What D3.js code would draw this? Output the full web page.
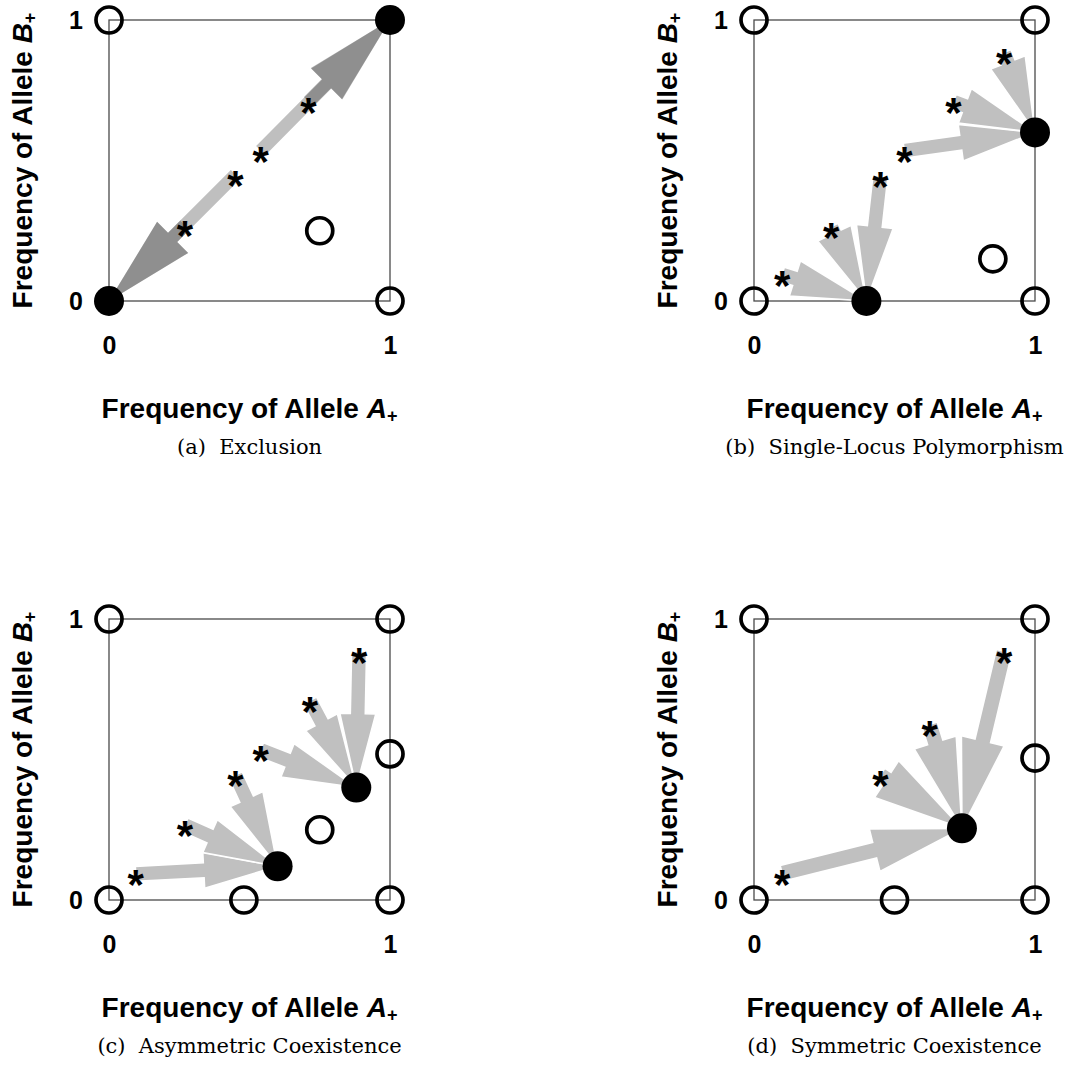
<!DOCTYPE html>
<html>
<head>
<meta charset="utf-8">
<script src="https://cdn.jsdelivr.net/npm/d3@7"></script>
<style>
  body { margin: 0; background: #fff; }
  svg { display: block; }
</style>
</head>
<body>
<svg></svg>
<script>
const width = 1067;
const height = 1070;

// panel captions
const captions = ["(a)  Exclusion", "(b)  Single-Locus Polymorphism",
                  "(c)  Asymmetric Coexistence", "(d)  Symmetric Coexistence"];
const tickValues = [0, 1];
const xLabel = "Frequency of Allele ";
const yLabel = "Frequency of Allele ";

// stable (filled) and unstable (open) equilibria, [A+, B+]
const stableA = [[0, 0], [1, 1]];
const unstableA = [[0, 1], [1, 0], [0.75, 0.25]];
const stableB = [[0.4, 0], [1, 0.6]];
const unstableB = [[0, 0], [0, 1], [1, 0], [1, 1], [0.85, 0.15]];
const stableC = [[0.6, 0.12], [0.88, 0.4]];
const unstableC = [[0, 0], [0, 1], [1, 0], [1, 1], [0.48, 0], [1, 0.52], [0.75, 0.25]];
const stableD = [[0.74, 0.255]];
const unstableD = [[0, 0], [0, 1], [1, 0], [1, 1], [0.5, 0], [1, 0.505]];

// initial conditions (stars) and where each trajectory ends
const startsA = [[0.54, 0.535], [0.71, 0.71], [0.45, 0.45], [0.27, 0.27]];
const endsA = [[1, 1], [1, 1], [0, 0], [0, 0]];
const startsB = [[0.10, 0.095], [0.275, 0.265], [0.45, 0.445], [0.535, 0.535], [0.71, 0.71], [0.89, 0.885]];
const endsB = [[0.4, 0], [0.4, 0], [0.4, 0], [1, 0.6], [1, 0.6], [1, 0.6]];
const startsC = [[0.095, 0.093], [0.27, 0.267], [0.45, 0.445], [0.54, 0.535], [0.715, 0.71], [0.89, 0.885]];
const endsC = [[0.6, 0.12], [0.6, 0.12], [0.6, 0.12], [0.88, 0.4], [0.88, 0.4], [0.88, 0.4]];
const startsD = [[0.10, 0.095], [0.45, 0.445], [0.625, 0.625], [0.89, 0.885]];
const endsD = [[0.74, 0.255], [0.74, 0.255], [0.74, 0.255], [0.74, 0.255]];

const panels = [
  { stable: stableA, unstable: unstableA, starts: startsA, ends: endsA, left: 109, top: 20,
    head: 90, headW: 44, shaft: 13, translucent: true },
  { stable: stableB, unstable: unstableB, starts: startsB, ends: endsB, left: 754, top: 20,
    head: 75, headW: 37, shaft: 15, translucent: false },
  { stable: stableC, unstable: unstableC, starts: startsC, ends: endsC, left: 109, top: 619,
    head: 74, headW: 36, shaft: 15, translucent: false },
  { stable: stableD, unstable: unstableD, starts: startsD, ends: endsD, left: 754, top: 619,
    head: 90, headW: 44, shaft: 16, translucent: false }
];

const size = 281;
const x = d3.scaleLinear().domain([0, 1]).range([0, size]);
const y = d3.scaleLinear().domain([0, 1]).range([size, 0]);

const svg = d3.select("svg")
    .attr("width", width)
    .attr("height", height);

const sans = "'Liberation Sans', Arial, sans-serif";

function arrowPath(p0, p1, shaft, head, headW) {
  const x0 = x(p0[0]), y0 = y(p0[1]);
  const x1 = x(p1[0]), y1 = y(p1[1]);
  const len = Math.hypot(x1 - x0, y1 - y0);
  const ux = (x1 - x0) / len, uy = (y1 - y0) / len;
  const nx = -uy, ny = ux;
  const bx = x1 - ux * head, by = y1 - uy * head;
  const pts = [
    [x0 + nx * shaft / 2, y0 + ny * shaft / 2],
    [bx + nx * shaft / 2, by + ny * shaft / 2],
    [bx + nx * headW / 2, by + ny * headW / 2],
    [x1, y1],
    [bx - nx * headW / 2, by - ny * headW / 2],
    [bx - nx * shaft / 2, by - ny * shaft / 2],
    [x0 - nx * shaft / 2, y0 - ny * shaft / 2]
  ];
  return "M" + pts.map(p => p.join(",")).join("L") + "Z";
}

panels.forEach((p, i) => {
  const g = svg.append("g")
      .attr("transform", `translate(${p.left},${p.top})`);

  g.append("rect")
      .attr("width", size)
      .attr("height", size)
      .attr("fill", "none")
      .attr("stroke", "#4a4a4a")
      .attr("stroke-width", 1.3);

  // y ticks
  const ya = g.append("g")
      .call(d3.axisLeft(y).tickValues(tickValues).tickSize(0).tickPadding(26).tickFormat(d3.format("d")));
  ya.select(".domain").remove();
  ya.selectAll("text")
      .style("font-family", sans)
      .style("font-weight", "bold")
      .style("font-size", "25px")
      .attr("fill", "#000");

  // x ticks
  const xa = g.append("g")
      .attr("transform", `translate(0,${size})`)
      .call(d3.axisBottom(x).tickValues(tickValues).tickSize(0).tickPadding(35).tickFormat(d3.format("d")));
  xa.select(".domain").remove();
  xa.selectAll("text")
      .style("font-family", sans)
      .style("font-weight", "bold")
      .style("font-size", "25px")
      .attr("fill", "#000");

  // arrows
  g.append("g").selectAll("path")
    .data(p.starts.map((s, k) => [s, p.ends[k]]))
    .join("path")
      .attr("d", d => arrowPath(d[0], d[1], p.shaft, p.head, p.headW))
      .attr("fill", p.translucent ? "#000" : "#c0c0c0")
      .attr("fill-opacity", p.translucent ? 0.25 : 1)
      .attr("stroke", p.translucent ? "none" : "#fff")
      .attr("stroke-width", 1.6)
      .attr("stroke-linejoin", "miter");

  // stars
  g.append("g").selectAll("text")
    .data(p.starts)
    .join("text")
      .attr("x", d => x(d[0]))
      .attr("y", d => y(d[1]))
      .attr("dy", "0.6em")
      .attr("text-anchor", "middle")
      .style("font-family", sans)
      .style("font-weight", "bold")
      .style("font-size", "42px")
      .text("*");

  // equilibria
  g.append("g").selectAll("circle")
    .data(p.unstable)
    .join("circle")
      .attr("cx", d => x(d[0]))
      .attr("cy", d => y(d[1]))
      .attr("r", 13)
      .attr("fill", "none")
      .attr("stroke", "#000")
      .attr("stroke-width", 3.7);

  g.append("g").selectAll("circle")
    .data(p.stable)
    .join("circle")
      .attr("cx", d => x(d[0]))
      .attr("cy", d => y(d[1]))
      .attr("r", 15)
      .attr("fill", "#000");

  // axis labels
  const xl = g.append("text")
      .attr("x", size / 2)
      .attr("y", size + 117)
      .attr("text-anchor", "middle")
      .style("font-family", sans)
      .style("font-weight", "bold")
      .style("font-size", "28px");
  xl.append("tspan").text(xLabel);
  xl.append("tspan").style("font-style", "italic").text("A");
  xl.append("tspan").attr("dy", "0.2em").style("font-size", "18px").text("+");

  const yl = g.append("text")
      .attr("transform", `translate(-77,${size / 2}) rotate(-90)`)
      .attr("text-anchor", "middle")
      .style("font-family", sans)
      .style("font-weight", "bold")
      .style("font-size", "28px");
  yl.append("tspan").text(yLabel);
  yl.append("tspan").style("font-style", "italic").text("B");
  yl.append("tspan").attr("dy", "0.2em").style("font-size", "18px").text("+");

  // caption
  g.append("text")
      .attr("x", size / 2)
      .attr("y", size + 153)
      .attr("text-anchor", "middle")
      .style("font-family", "'DejaVu Serif', 'Liberation Serif', serif")
      .style("font-size", "21px")
      .style("white-space", "pre")
      .attr("xml:space", "preserve")
      .text(captions[i]);
});
</script>
</body>
</html>
